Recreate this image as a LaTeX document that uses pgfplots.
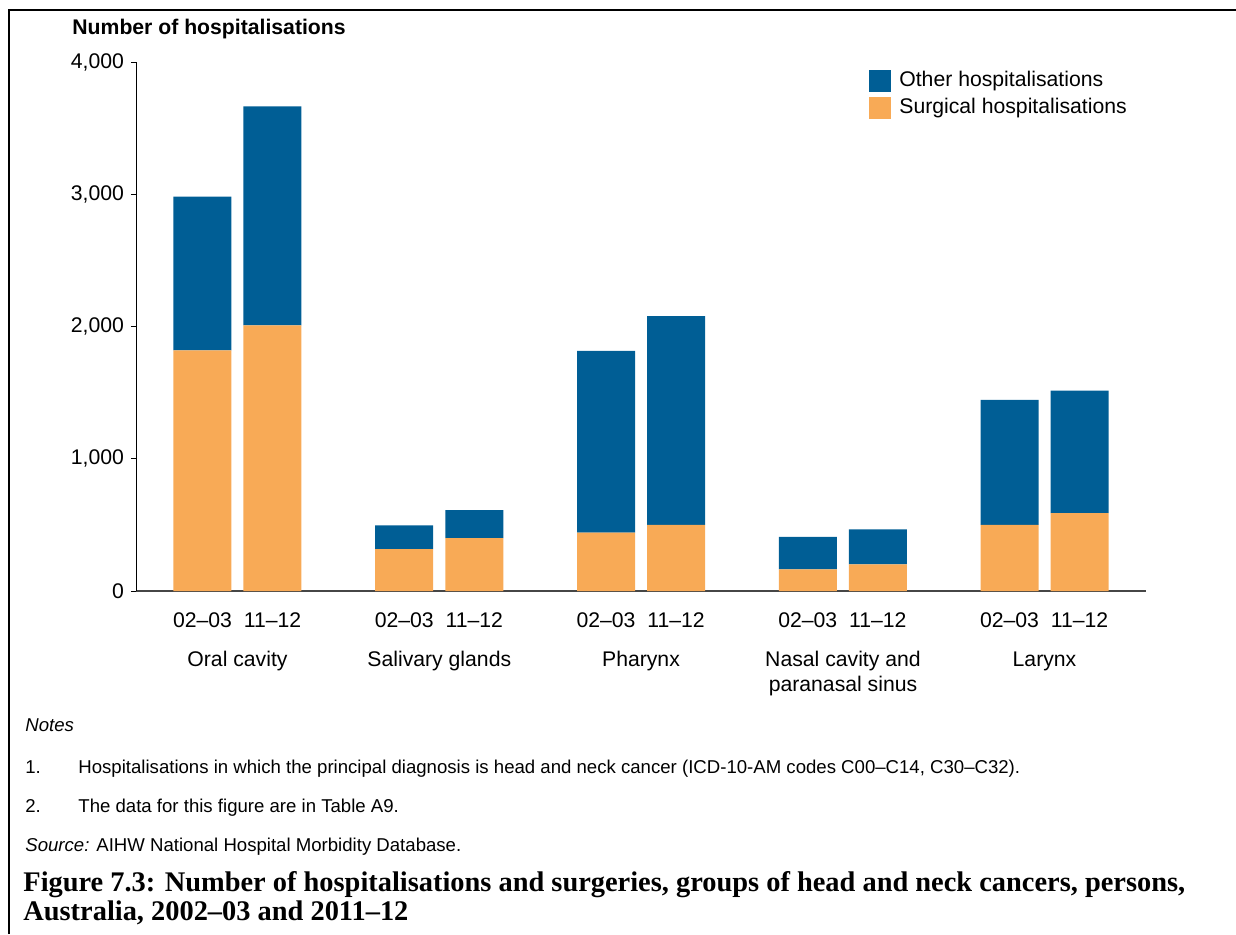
\documentclass[border=0pt]{standalone}
\usepackage{fontspec}
\setmainfont{Liberation Sans}
\newfontfamily\capfont[Ligatures=TeX]{Liberation Serif}
\usepackage{pgfplots}
\pgfplotsset{compat=1.18}
\definecolor{otherblue}{HTML}{005E95}
\definecolor{surgorange}{HTML}{F8AA56}
\newcommand\lab{\fontsize{10.6}{12.7}\selectfont}
\newcommand\note{\fontsize{9.3}{11}\selectfont}

\begin{document}
\begin{tikzpicture}
% page in pixel units of the reference (1px = 0.5pt, y downwards)
\begin{scope}[x=0.5pt,y=-0.5pt]
\path[use as bounding box] (0,0) rectangle (1236,934);
\draw[line width=1pt] (9,934) -- (9,10) -- (1236,10);
\node[anchor=base west, inner sep=0, font=\lab\bfseries] at (72,34) {Number of hospitalisations};
% group names
\node[anchor=base, inner sep=0, font=\lab] at (237.5,666) {Oral cavity};
\node[anchor=base, inner sep=0, font=\lab] at (439.3,666) {Salivary glands};
\node[anchor=base, inner sep=0, font=\lab] at (641,666) {Pharynx};
\node[anchor=base, inner sep=0, font=\lab] at (843,666) {Nasal cavity and};
\node[anchor=base, inner sep=0, font=\lab] at (843,691) {paranasal sinus};
\node[anchor=base, inner sep=0, font=\lab] at (1044.5,666) {Larynx};
% notes
\node[anchor=base west, inner sep=0, font=\note\itshape] at (25,731) {Notes};
\node[anchor=base west, inner sep=0, font=\note] at (25,773) {1.};
\node[anchor=base west, inner sep=0, font=\note] at (78,773) {Hospitalisations in which the principal diagnosis is head and neck cancer (ICD-10-AM codes C00--C14, C30--C32).};
\node[anchor=base west, inner sep=0, font=\note] at (25,812) {2.};
\node[anchor=base west, inner sep=0, font=\note] at (78,812) {The data for this figure are in Table A9.};
\node[anchor=base west, inner sep=0, font=\note] at (25,851) {\textit{Source:} AIHW National Hospital Morbidity Database.};
\node[anchor=base west, inner sep=0, font=\capfont\bfseries\fontsize{14.2}{16}\selectfont] at (23,891) {Figure 7.3: Number of hospitalisations and surgeries, groups of head and neck cancers, persons,};
\node[anchor=base west, inner sep=0, font=\capfont\bfseries\fontsize{14.2}{16}\selectfont] at (23,920) {Australia, 2002--03 and 2011--12};
\end{scope}

\begin{axis}[
    at={(68pt,-295.5pt)}, anchor=south west,
    scale only axis,
    width=505pt, height=264.5pt,
    ybar stacked,
    bar width=29pt,
    xmin=-0.503, xmax=4.503,
    ymin=0, ymax=4000,
    axis x line=bottom, axis y line=left,
    x axis line style={-, line width=1pt, gray!55!black},
    y axis line style={-, line width=0.5pt, black},
    xtick={-0.1735,0.1735,0.8265,1.1735,1.8265,2.1735,2.8265,3.1735,3.8265,4.1735},
    xticklabels={02--03,11--12,02--03,11--12,02--03,11--12,02--03,11--12,02--03,11--12},
    xtick style={draw=none},
    xticklabel style={font=\lab, anchor=base, yshift=-17pt},
    ytick={0,1000,2000,3000,4000},
    ytick align=outside,
    ytick style={black, line width=0.5pt},
    major tick length=2.5pt,
    yticklabel style={font=\lab},
    /pgf/number format/assume math mode=true,
    /pgf/number format/1000 sep={,},
    scaled y ticks=false,
    reverse legend,
    legend image code/.code={\fill[#1] (0pt,-5.5pt) rectangle (11pt,5.5pt); \path (13pt,0pt);},
    legend style={at={(0.7257,0.9906)}, anchor=north west, draw=none, fill=none,
        inner sep=0pt, font=\lab, row sep=0.3pt,
        cells={anchor=west}},
]
\addplot[fill=surgorange, draw=none] coordinates {
    (-0.1735,1820) (0.1735,2008) (0.8265,317) (1.1735,400) (1.8265,441)
    (2.1735,501) (2.8265,163) (3.1735,201) (3.8265,501) (4.1735,589)
};
\addlegendentry{Surgical hospitalisations}
\addplot[fill=otherblue, draw=none] coordinates {
    (-0.1735,1163) (0.1735,1657) (0.8265,179) (1.1735,212) (1.8265,1375)
    (2.1735,1577) (2.8265,247) (3.1735,265) (3.8265,945) (4.1735,927)
};
\addlegendentry{Other hospitalisations}
\end{axis}
\end{tikzpicture}
\end{document}
